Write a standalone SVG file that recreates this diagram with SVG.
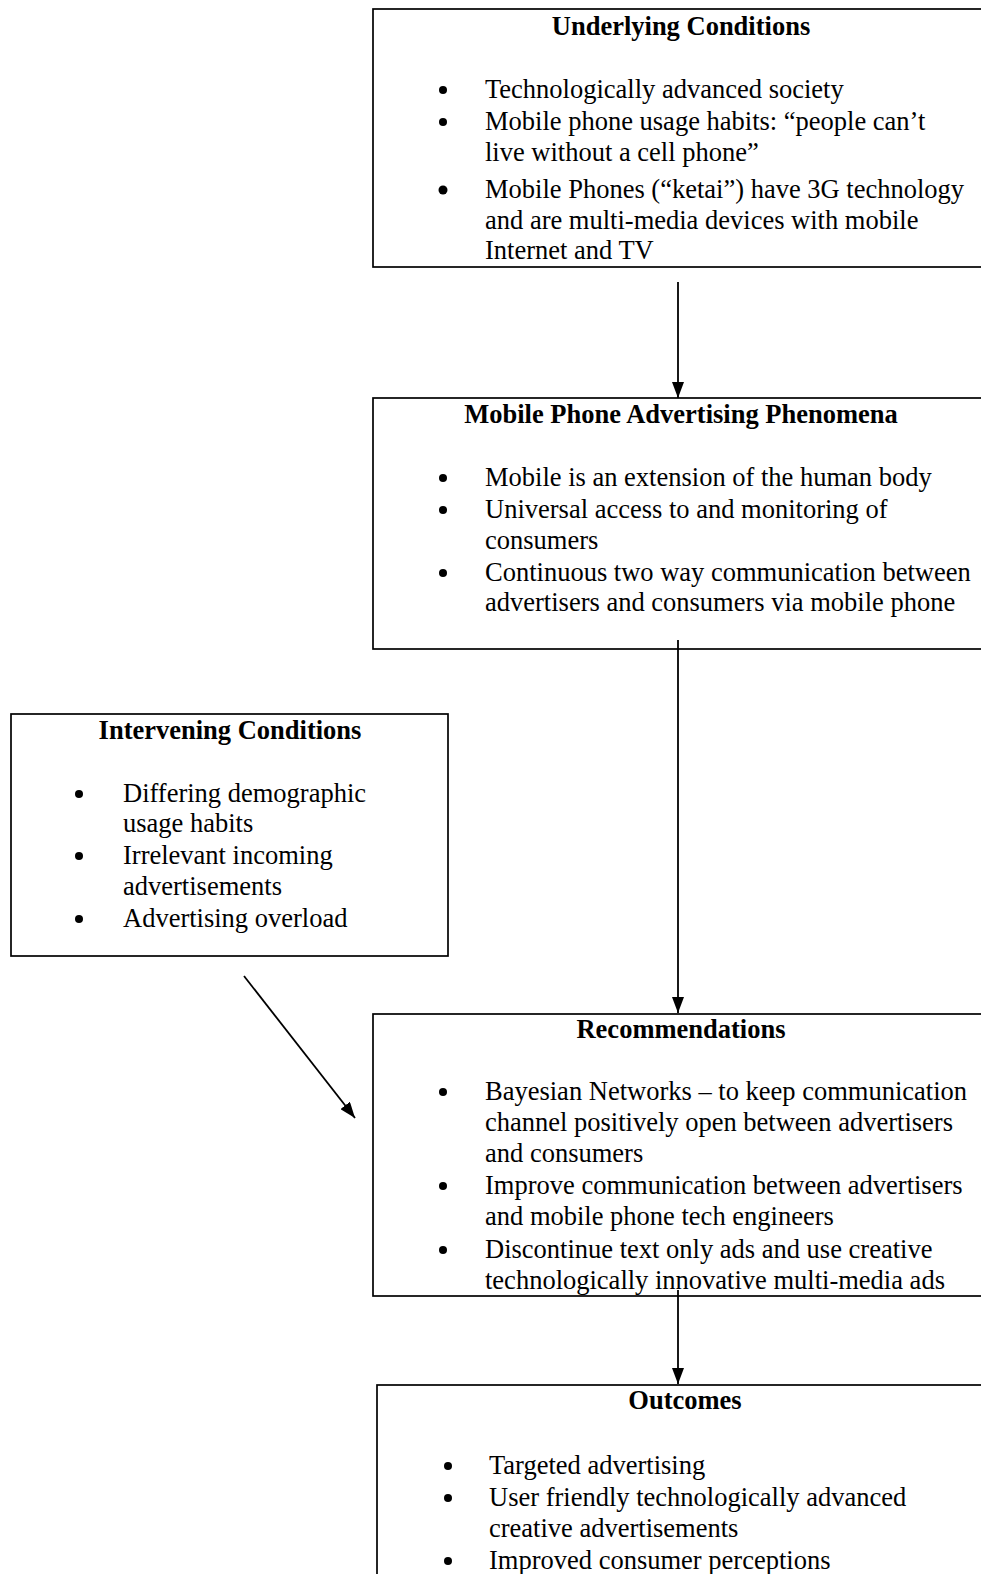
<svg xmlns="http://www.w3.org/2000/svg" width="981" height="1574" viewBox="0 0 981 1574">
<defs>
<marker id="ah" markerWidth="16" markerHeight="12" refX="16" refY="6" orient="auto" markerUnits="userSpaceOnUse" viewBox="0 0 16 12">
<path d="M0,0 L16,6 L0,12 Z" fill="#000"/>
</marker>
<style>
.box{fill:#fff;stroke:#000;stroke-width:1.7}
.t{font-family:"Liberation Serif","Times New Roman",serif;font-size:26.5px;fill:#000}
.h{font-family:"Liberation Serif","Times New Roman",serif;font-size:26.5px;font-weight:bold;fill:#000;text-anchor:middle}
.c{stroke:#000;stroke-width:1.8;fill:none}
.b{fill:#000}
</style>
</defs>
<rect width="981" height="1574" fill="#fff"/>

<g id="underlying">
<rect class="box" x="373" y="9" width="620" height="258"/>
<text class="h" x="681" y="35">Underlying Conditions</text>
<circle class="b" cx="443" cy="90" r="4"/>
<text class="t" x="485" y="98">Technologically advanced society</text>
<circle class="b" cx="443" cy="122" r="4"/>
<text class="t" x="485" y="130">Mobile phone usage habits: “people can’t</text>
<text class="t" x="485" y="161">live without a cell phone”</text>
<circle class="b" cx="443" cy="190" r="4.5"/>
<text class="t" x="485" y="198">Mobile Phones (“ketai”) have 3G technology</text>
<text class="t" x="485" y="229">and are multi-media devices with mobile</text>
<text class="t" x="485" y="259">Internet and TV</text>
</g>

<g id="phenomena">
<rect class="box" x="373" y="398" width="620" height="251"/>
<text class="h" x="681" y="423">Mobile Phone Advertising Phenomena</text>
<circle class="b" cx="443" cy="478" r="4"/>
<text class="t" x="485" y="486">Mobile is an extension of the human body</text>
<circle class="b" cx="443" cy="510" r="4"/>
<text class="t" x="485" y="518">Universal access to and monitoring of</text>
<text class="t" x="485" y="549">consumers</text>
<circle class="b" cx="443" cy="573" r="4"/>
<text class="t" x="485" y="581">Continuous two way communication between</text>
<text class="t" x="485" y="611">advertisers and consumers via mobile phone</text>
</g>

<g id="intervening">
<rect class="box" x="11" y="714" width="437" height="242"/>
<text class="h" x="230" y="739">Intervening Conditions</text>
<circle class="b" cx="79" cy="794" r="4"/>
<text class="t" x="123" y="802">Differing demographic</text>
<text class="t" x="123" y="832">usage habits</text>
<circle class="b" cx="79" cy="856" r="4"/>
<text class="t" x="123" y="864">Irrelevant incoming</text>
<text class="t" x="123" y="895">advertisements</text>
<circle class="b" cx="79" cy="919" r="4"/>
<text class="t" x="123" y="927">Advertising overload</text>
</g>

<g id="recommendations">
<rect class="box" x="373" y="1014" width="620" height="282"/>
<text class="h" x="681" y="1038">Recommendations</text>
<circle class="b" cx="443" cy="1092" r="4"/>
<text class="t" x="485" y="1100">Bayesian Networks – to keep communication</text>
<text class="t" x="485" y="1131">channel positively open between advertisers</text>
<text class="t" x="485" y="1162">and consumers</text>
<circle class="b" cx="443" cy="1186" r="4"/>
<text class="t" x="485" y="1194">Improve communication between advertisers</text>
<text class="t" x="485" y="1225">and mobile phone tech engineers</text>
<circle class="b" cx="443" cy="1250" r="4"/>
<text class="t" x="485" y="1258">Discontinue text only ads and use creative</text>
<text class="t" x="485" y="1289">technologically innovative multi-media ads</text>
</g>

<g id="outcomes">
<rect class="box" x="377" y="1385" width="620" height="200"/>
<text class="h" x="685" y="1409">Outcomes</text>
<circle class="b" cx="448" cy="1466" r="4"/>
<text class="t" x="489" y="1474">Targeted advertising</text>
<circle class="b" cx="448" cy="1498" r="4"/>
<text class="t" x="489" y="1506">User friendly technologically advanced</text>
<text class="t" x="489" y="1537">creative advertisements</text>
<circle class="b" cx="448" cy="1561" r="4"/>
<text class="t" x="489" y="1569">Improved consumer perceptions</text>
</g>

<g id="connectors">
<line class="c" x1="678" y1="282" x2="678" y2="398" marker-end="url(#ah)"/>
<line class="c" x1="678" y1="640" x2="678" y2="1013" marker-end="url(#ah)"/>
<line class="c" x1="244" y1="976" x2="355" y2="1118" marker-end="url(#ah)"/>
<line class="c" x1="678" y1="1290" x2="678" y2="1384" marker-end="url(#ah)"/>
</g>
</svg>
